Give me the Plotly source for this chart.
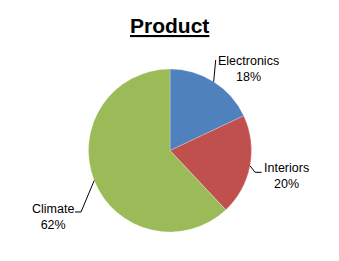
import math
import plotly.graph_objects as go

categories = ["Electronics", "Interiors", "Climate"]
values = [18, 20, 62]
colors = ["#4F81BD", "#C0504D", "#9BBB59"]
title_text = "Product"

W, H = 339, 261
CX, CY, R = 170.0, 150.5, 81.5


def px(x):
    return x / W


def py(y):
    return 1 - y / H


fig = go.Figure(
    go.Pie(
        labels=categories,
        values=values,
        marker=dict(colors=colors, line=dict(color="rgba(255,255,255,0.5)", width=0.5)),
        sort=False,
        direction="clockwise",
        rotation=0,
        textinfo="none",
        hoverinfo="label+percent",
        domain=dict(x=[px(CX - R), px(CX + R)], y=[py(CY + R), py(CY - R)]),
    )
)

# label layout (pixel positions of label block centers and leader elbow points)
label_pos = {
    "Electronics": dict(cx=248, cy=69.2, path=[(215.7, 60)]),
    "Interiors": dict(cx=286.3, cy=176.3, path=[(255, 172.3), (261.7, 172.3)]),
    "Climate": dict(cx=53, cy=217.2, path=[(81, 212), (75, 212)]),
}

total = sum(values)
cum = 0
shapes = []
annotations = []
for cat, v in zip(categories, values):
    mid = (cum + v / 2) / total * 2 * math.pi
    cum += v
    ex = CX + R * math.sin(mid)
    ey = CY - R * math.cos(mid)
    lp = label_pos[cat]
    pts = [(ex, ey)] + lp["path"]
    d = "M " + " L ".join(f"{px(a):.5f},{py(b):.5f}" for a, b in pts)
    shapes.append(dict(type="path", xref="paper", yref="paper", path=d,
                       line=dict(color="#000000", width=1)))
    pct = round(v / total * 100)
    annotations.append(dict(
        text=f"{cat}<br>{pct}%", x=px(lp["cx"]), y=py(lp["cy"]),
        xref="paper", yref="paper", xanchor="center", yanchor="middle",
        showarrow=False, align="center",
        font=dict(family="Liberation Sans", size=12.5, color="#000000"),
    ))

annotations.append(dict(
    text=f"<b><u>{title_text}</u></b>", x=px(169), y=py(26),
    xref="paper", yref="paper", xanchor="center", yanchor="middle",
    showarrow=False,
    font=dict(family="Liberation Sans", size=21, color="#000000"),
))

fig.update_layout(
    width=W, height=H,
    margin=dict(l=0, r=0, t=0, b=0),
    paper_bgcolor="white", plot_bgcolor="white",
    showlegend=False,
    shapes=shapes,
    annotations=annotations,
)

fig.write_html("out.html")
